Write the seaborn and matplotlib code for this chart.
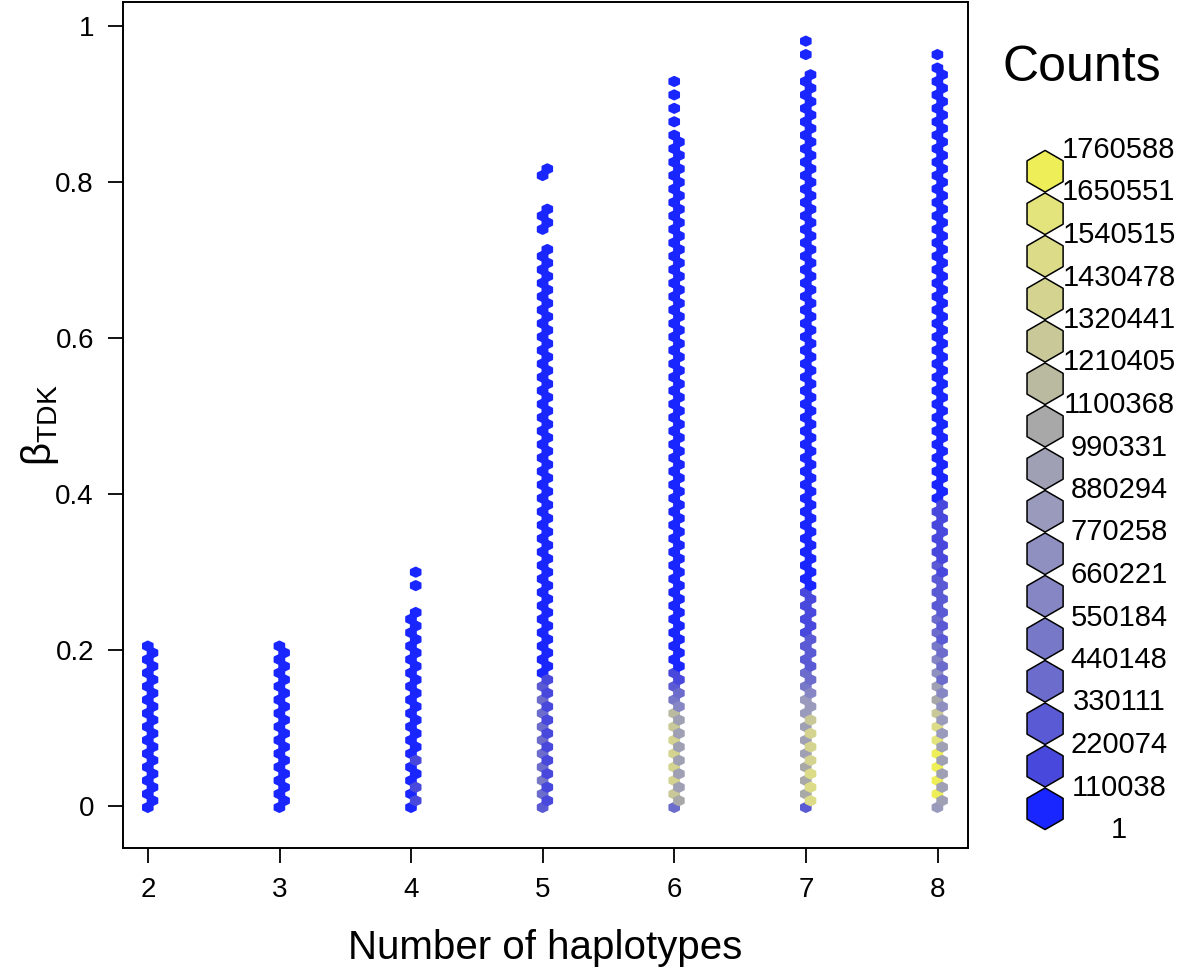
"""
Hexbin of beta_TDK against number of haplotypes, with a discrete count legend.
"""

import numpy as np
import pandas as pd
import matplotlib
matplotlib.use("Agg")
import matplotlib.pyplot as plt
import seaborn as sns
from matplotlib.colors import ListedColormap, BoundaryNorm

# ---- data ---------------------------------------------------------------
HAPLOTYPES = [2, 3, 4, 5, 6, 7, 8]
BETA_STEP = 1 / 116          # spacing of the observed beta values

# rows (beta = 0, 1 step, 2 steps, ...) in the dense part of each column
COLUMN_ROWS = [25, 25, 30, 84, 101, 110, 110]
# count for rows not listed in the LOW_COUNTS lists
BASE_COUNT = [45000, 42000, 60000, 40000, 35000, 30000, 30000]

# counts of the lowest rows, from beta = 0 upward
LOW_COUNTS_2 = []
LOW_COUNTS_3 = []
LOW_COUNTS_4 = [60000, 150000, 60000, 140000, 60000, 60000, 60000, 120000]
LOW_COUNTS_5 = [260000, 180000, 420000, 200000, 450000, 190000, 430000, 200000,
                400000, 210000, 440000, 200000, 380000, 190000, 400000, 180000,
                350000, 150000, 260000, 120000]
LOW_COUNTS_6 = [420000, 1000000, 1300000, 950000, 1400000, 950000, 1350000,
                940000, 1420000, 930000, 1400000, 920000, 1300000, 900000,
                1150000, 620000, 500000, 380000, 260000, 170000, 130000]
LOW_COUNTS_7 = [300000, 1450000, 1050000, 1480000, 1030000, 1450000, 1000000,
                1420000, 980000, 1400000, 960000, 1350000, 920000, 1250000,
                880000, 850000, 800000, 620000, 520000, 420000, 380000, 330000,
                300000, 270000, 250000, 230000, 210000, 190000, 170000, 150000,
                140000, 125000, 115000]
LOW_COUNTS_8 = [880000, 960000, 1750000, 950000, 1740000, 940000, 1720000,
                930000, 1700000, 920000, 1600000, 860000, 1480000, 800000,
                1320000, 720000, 1080000, 560000, 930000, 420000, 740000,
                380000, 620000, 340000, 500000, 310000, 420000, 290000, 360000,
                270000, 320000, 250000, 290000, 230000, 260000, 210000, 230000,
                190000, 200000, 170000, 180000, 150000, 150000, 130000, 125000,
                115000]

# sparse hits above the dense part of each column
SPARSE_BETA_2 = []
SPARSE_BETA_3 = []
SPARSE_BETA_4 = [0.284, 0.301]
SPARSE_BETA_5 = [0.737, 0.748, 0.757, 0.766, 0.806, 0.815]
SPARSE_BETA_6 = [0.882, 0.891, 0.908, 0.933]
SPARSE_BETA_7 = [0.967, 0.976]
SPARSE_BETA_8 = [0.951, 0.968]
SPARSE_COUNT = 5000

COUNT_BREAKS = [1, 110038, 220074, 330111, 440148, 550184, 660221, 770258,
                880294, 990331, 1100368, 1210405, 1320441, 1430478, 1540515,
                1650551, 1760588]
LEVEL_COLORS = ["#1a26ff", "#4848dc", "#5a5ad4", "#6c6ccc", "#7878c8", "#8686c4",
                "#9090c0", "#9a9abc", "#a0a0b4", "#a8a8a8", "#babaa0", "#c8c898",
                "#d4d490", "#dcdc88", "#e4e47c", "#eeee58"]

X_TICKS = [2, 3, 4, 5, 6, 7, 8]
Y_TICKS = [0, 0.2, 0.4, 0.6, 0.8, 1]
Y_TICK_LABELS = ["0", "0.2", "0.4", "0.6", "0.8", "1"]

# ---- build table ----------------------------------------------------------
low_counts = [LOW_COUNTS_2, LOW_COUNTS_3, LOW_COUNTS_4, LOW_COUNTS_5,
              LOW_COUNTS_6, LOW_COUNTS_7, LOW_COUNTS_8]
sparse = [SPARSE_BETA_2, SPARSE_BETA_3, SPARSE_BETA_4, SPARSE_BETA_5,
          SPARSE_BETA_6, SPARSE_BETA_7, SPARSE_BETA_8]

rows = []
for h, n, base, low, extra in zip(HAPLOTYPES, COLUMN_ROWS, BASE_COUNT, low_counts, sparse):
    for k in range(n):
        rows.append((h, k * BETA_STEP, low[k] if k < len(low) else base))
    for b in extra:
        rows.append((h, b, SPARSE_COUNT))
df = pd.DataFrame(rows, columns=["haplotypes", "beta", "count"])

# ---- style ---------------------------------------------------------------
sns.set_style("ticks")
plt.rcParams["font.family"] = ["Liberation Sans", "DejaVu Sans"]
plt.rcParams["mathtext.fontset"] = "custom"
plt.rcParams["mathtext.rm"] = "Liberation Sans"
plt.rcParams["mathtext.it"] = "Liberation Sans:italic"
plt.rcParams.update({"text.color": "black", "axes.labelcolor": "black",
                     "xtick.color": "black", "ytick.color": "black"})

cmap = ListedColormap(LEVEL_COLORS)
norm = BoundaryNorm(COUNT_BREAKS, cmap.N)

fig = plt.figure(figsize=(11.81, 9.74), dpi=100)
ax = fig.add_axes([0.1042, 0.1294, 0.7154, 0.8686])

ax.hexbin(df["haplotypes"], df["beta"], C=df["count"], reduce_C_function=np.sum,
          gridsize=(98, 58), extent=(1.498, 8.498, -0.002, 0.998), mincnt=1,
          cmap=cmap, norm=norm, edgecolors="face", linewidths=1.6)

ax.set_xlim(1.81, 8.23)
ax.set_ylim(-0.054, 1.031)
ax.set_xticks(X_TICKS)
ax.set_yticks(Y_TICKS)
ax.set_yticklabels(Y_TICK_LABELS)
ax.tick_params(direction="out", length=11, width=1.3, labelsize=20, pad=10,
               color="black", labelcolor="black")
for sp in ax.spines.values():
    sp.set_visible(True)
    sp.set_linewidth(1.4)
    sp.set_color("black")

ax.set_xlabel("Number of haplotypes", fontsize=29)
ax.set_ylabel("β$_\\mathrm{TDK}$", fontsize=29)
ax.xaxis.set_label_coords(0.5, -0.118)
ax.xaxis.label.set_va("center")
ax.yaxis.set_label_coords(-0.098, 0.5)
ax.yaxis.label.set_va("center")

# ---- legend ---------------------------------------------------------------
fig.text(1082 / 1181, 1 - 68 / 974, "Counts", fontsize=36, ha="center", va="center")

lax = fig.add_axes([1000 / 1181, (974 - 830) / 974, 181 / 1181, 680 / 974])
lax.set_xlim(0, 1)
lax.set_ylim(0, 16)
lax.axis("off")
levels = np.arange(len(LEVEL_COLORS))
lax.scatter(np.full(len(levels), 0.249), levels + 0.5, marker="h", s=900,
            c=LEVEL_COLORS, edgecolors="black", linewidths=1.1, clip_on=False)
for i, b in enumerate(COUNT_BREAKS):
    lax.text(0.657, i, str(b), fontsize=21, ha="center", va="center", clip_on=False)

fig.savefig("out.png", dpi=100)
